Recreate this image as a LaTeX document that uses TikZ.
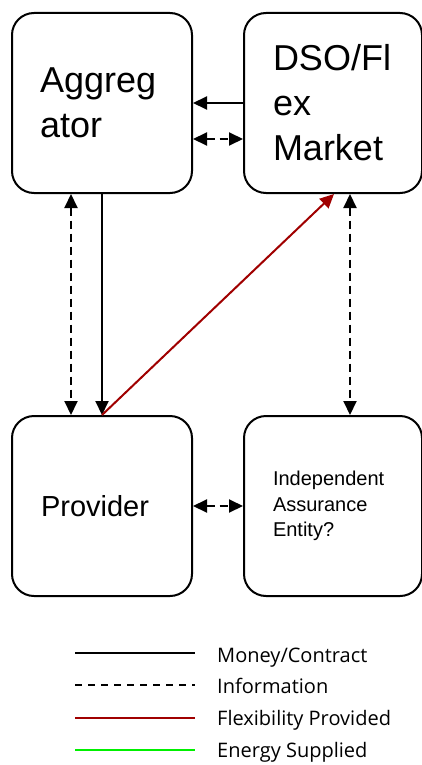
\documentclass[tikz,border=0pt]{standalone}
\usepackage{fontspec}
\setmainfont{Liberation Sans}
\newfontfamily\keyfont{Open Sans}
\usetikzlibrary{arrows.meta, positioning}
\definecolor{flexred}{RGB}{160,0,0}
\definecolor{energygreen}{RGB}{0,240,0}
\tikzset{
	actor/.style={draw, line width=2pt, rounded corners=22pt, minimum width=180pt,
		minimum height=180pt, inner sep=0pt, align=left}
}
\tikzset{
	tip/.tip={Triangle[length=14pt,width=13pt]},
	money/.style={line width=2pt, -tip},
	info/.style={line width=2pt, dash pattern=on 8pt off 5pt, tip-tip},
	flex/.style={line width=2pt, flexred, -tip}
}
\tikzset{
	keytext/.style={font=\keyfont\fontsize{20}{24}\selectfont, anchor=base west, inner sep=0pt},
	keyline/.style={line width=1.6pt}
}

\begin{document}
\begin{tikzpicture}[x=1pt, y=-1pt]
	\useasboundingbox (0,0) rectangle (421,765);

	% the four parties
	\node[actor, text width=124pt, font=\fontsize{36}{45}\selectfont] (agg) at (102,103) {Aggreg\\ator};
	\node[actor, minimum width=178pt, text width=120pt, font=\fontsize{36}{45}\selectfont] (dso) [right=50pt of agg] {DSO/Fl\\ex\\Market};
	\node[actor, text width=122pt, font=\fontsize{29}{35}\selectfont] (prov) [below=221pt of agg] {Provider};
	\node[actor, minimum width=178pt, text width=120pt, font=\fontsize{20}{25.5}\selectfont] (iae) [below=221pt of dso] {Independent\\Assurance\\Entity?};

	% flows between them
	\draw[money] (dso.west) -- (agg.east);
	\draw[info] ([yshift=-36pt]agg.east) -- ([yshift=-36pt]dso.west);
	\draw[info] ([xshift=-31pt]agg.south) -- ([xshift=-31pt]prov.north);
	\draw[money] (agg.south) -- (prov.north);
	\draw[flex] (prov.north) -- ([xshift=1pt]dso.south);
	\draw[info] ([xshift=17pt]dso.south) -- ([xshift=17pt]iae.north);
	\draw[info] (prov.east) -- (iae.west);

	% key
	\draw[keyline] (75,653) -- (195,653);
	\node[keytext] (kmoney) at (217,662) {Money/Contract};
	\draw[keyline, dash pattern=on 7pt off 6pt] (75,685) -- (195,685);
	\node[keytext] (kinfo) at (217,693) {Information};
	\draw[keyline, flexred] (75,718) -- (195,718);
	\node[keytext] (kflex) at (217,725) {Flexibility Provided};
	\draw[keyline, energygreen] (75,750) -- (195,750);
	\node[keytext] (kenergy) at (217,757) {Energy Supplied};
\end{tikzpicture}
\end{document}
